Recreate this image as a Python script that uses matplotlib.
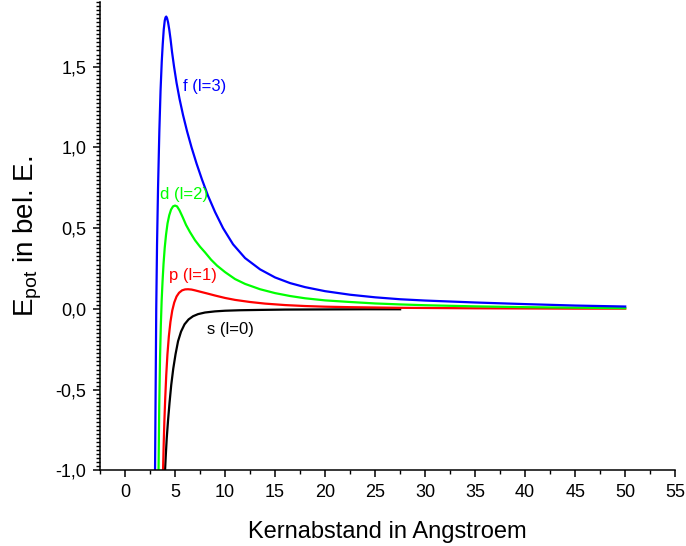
import matplotlib

matplotlib.use("Agg")

import matplotlib.pyplot as plt  # noqa: E402
from matplotlib.ticker import FuncFormatter, MultipleLocator  # noqa: E402

plt.rcParams["font.family"] = ["Liberation Sans", "DejaVu Sans"]
plt.rcParams["mathtext.default"] = "regular"

# values (Kernabstand in Angstroem, E_pot in bel. E.)
x_f = [3.00, 3.06, 3.12, 3.20, 3.30, 3.43, 3.55, 3.67, 3.77, 3.87, 3.97, 4.05,
       4.12, 4.20, 4.30, 4.42, 4.55, 4.70, 4.90, 5.15, 5.45, 5.80, 6.20, 6.65,
       7.15, 7.70, 8.30, 9.00, 9.80, 10.8, 12.0, 13.5, 15.0, 16.5, 18.0, 20.0,
       22.5, 25.0, 27.5, 30.0, 35.0, 40.0, 45.0, 50.0]
y_f = [-1.00, -0.50, 0.00, 0.40, 0.75, 1.10, 1.35, 1.53, 1.64, 1.73, 1.785, 1.805,
       1.81, 1.80, 1.775, 1.73, 1.67, 1.59, 1.50, 1.40, 1.30, 1.20, 1.10, 1.00,
       0.90, 0.80, 0.70, 0.60, 0.50, 0.40, 0.315, 0.245, 0.195, 0.16, 0.135, 0.11,
       0.088, 0.072, 0.060, 0.052, 0.040, 0.030, 0.021, 0.015]

x_d = [3.35, 3.42, 3.50, 3.58, 3.66, 3.75, 3.85, 3.97, 4.10, 4.25, 4.42, 4.60,
       4.80, 5.00, 5.20, 5.45, 5.75, 6.10, 6.50, 7.00, 7.50, 8.00, 8.60, 9.20,
       10.0, 11.0, 12.0, 13.5, 15.0, 16.5, 18.0, 20.0, 22.5, 25.0, 27.5, 30.0,
       35.0, 40.0, 45.0, 50.0]
y_d = [-1.00, -0.60, -0.30, -0.10, 0.05, 0.17, 0.28, 0.38, 0.46, 0.53, 0.58, 0.615,
       0.635, 0.64, 0.635, 0.61, 0.57, 0.52, 0.475, 0.425, 0.385, 0.35, 0.305, 0.268,
       0.228, 0.185, 0.155, 0.122, 0.098, 0.080, 0.066, 0.053, 0.043, 0.034, 0.028, 0.023,
       0.016, 0.011, 0.008, 0.005]

x_p = [3.80, 3.86, 3.93, 4.02, 4.12, 4.24, 4.38, 4.54, 4.72, 4.92, 5.15, 5.40,
       5.70, 6.00, 6.30, 6.65, 7.00, 7.50, 8.20, 9.00, 10.0, 11.0, 12.5, 14.0,
       16.0, 18.0, 20.0, 22.5, 25.0, 27.5, 30.0, 35.0, 40.0, 45.0, 50.0]
y_p = [-1.00, -0.85, -0.70, -0.55, -0.41, -0.28, -0.17, -0.08, -0.01, 0.04, 0.077, 0.100,
       0.115, 0.121, 0.122, 0.120, 0.115, 0.107, 0.096, 0.083, 0.068, 0.056, 0.043, 0.033,
       0.024, 0.018, 0.014, 0.011, 0.009, 0.007, 0.006, 0.004, 0.003, 0.002, 0.002]

x_s = [4.00, 4.08, 4.17, 4.30, 4.45, 4.62, 4.82, 5.05, 5.30, 5.60, 5.95, 6.35,
       6.80, 7.30, 8.00, 9.00, 10.0, 11.5, 13.5, 16.0, 20.0, 24.0, 27.5]
y_s = [-1.00, -0.90, -0.80, -0.69, -0.58, -0.47, -0.37, -0.28, -0.20, -0.14, -0.095, -0.065,
       -0.045, -0.032, -0.022, -0.015, -0.011, -0.008, -0.006, -0.004, -0.003, -0.002, -0.002]

curves = [
    (x_s, y_s, "black", "s (l=0)", (8.2, -0.13)),
    (x_p, y_p, "red", "p (l=1)", (4.35, 0.21)),
    (x_d, y_d, "#00ff00", "d (l=2)", (3.5, 0.71)),
    (x_f, y_f, "blue", "f (l=3)", (5.8, 1.38)),
]

fig = plt.figure(figsize=(6.86, 5.46), dpi=100)
ax = fig.add_axes([0.1458, 0.1383, 0.8385, 0.858])

for xs, ys, color, label, pos in curves:
    ax.plot(xs, ys, color=color, lw=1.6, solid_joinstyle="round")
    ax.text(pos[0], pos[1], label, color=color, fontsize=12, va="center", ha="left")

ax.set_xlim(-2.5, 55)
ax.set_ylim(-1.0, 1.9)
ax.xaxis.set_major_locator(MultipleLocator(5))
ax.xaxis.set_minor_locator(MultipleLocator(2.5))
ax.yaxis.set_major_locator(MultipleLocator(0.5))
ax.yaxis.set_minor_locator(MultipleLocator(0.025))
ax.xaxis.set_major_formatter(FuncFormatter(lambda v, p: f"{v:.0f}"))
ax.yaxis.set_major_formatter(FuncFormatter(lambda v, p: f"{v:.1f}".replace(".", ",")))

for side in ["top", "right"]:
    ax.spines[side].set_visible(False)
for side in ["left", "bottom"]:
    ax.spines[side].set_linewidth(1.1)

ax.tick_params(which="major", direction="out", length=5, width=1.1, labelsize=13, pad=5)
ax.tick_params(which="minor", direction="out", length=3, width=1.0)

ax.set_xlabel("Kernabstand in Angstroem", fontsize=17, labelpad=14)
ax.set_ylabel("E$_{pot}$ in bel. E.", fontsize=20, labelpad=8)

fig.savefig("out.png", dpi=100)
